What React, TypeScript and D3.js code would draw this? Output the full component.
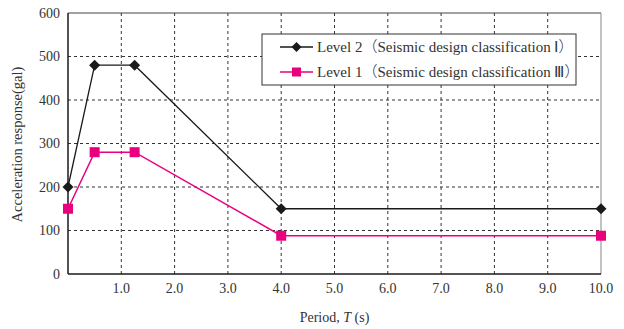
import * as d3 from "d3"

const periods = [0, 0.5, 1.25, 4, 10]
const level2 = [200, 480, 480, 150, 150]
const level1 = [150, 280, 280, 88, 88]
const xTicks = [1, 2, 3, 4, 5, 6, 7, 8, 9, 10]
const yTicks = [0, 100, 200, 300, 400, 500, 600]
const legendNames = ["Level 2", "Level 1"]
const legendClasses = ["Ⅰ", "Ⅲ"]

const width = 624
const height = 329
const margin = { top: 13, right: 23, bottom: 55, left: 68 }
const font = "'Liberation Serif', 'Times New Roman', serif"
const cjk = "'Noto Sans CJK JP', 'Noto Sans CJK SC', sans-serif"
const pink = "#e8007f"
const dark = "#1a1a1a"

export default function App() {
  const x = d3.scaleLinear().domain([0, 10]).range([margin.left, width - margin.right])
  const y = d3.scaleLinear().domain([0, 600]).range([height - margin.bottom, margin.top])

  const line = d3
    .line<number>()
    .x((_, i) => x(periods[i]))
    .y((d) => y(d))

  const diamond = (cx: number, cy: number, r: number) =>
    `M${cx},${cy - r}L${cx + r},${cy}L${cx},${cy + r}L${cx - r},${cy}Z`

  const [x0, x1] = x.range()
  const [y0, y1] = y.range()

  // legend label: latin parts in serif, full-width brackets in CJK font
  const legendText = (i: number, ty: number) => (
    <text x={317} y={ty} dy="0.35em" fontSize={15} fill="#333" fontFamily={font}>
      <tspan>{legendNames[i]}</tspan>
      <tspan fontFamily={cjk} fontWeight={300}>（</tspan>
      <tspan>Seismic design classification </tspan>
      <tspan>{legendClasses[i]}</tspan>
      <tspan fontFamily={cjk} fontWeight={300}>）</tspan>
    </text>
  )

  return (
    <svg
      width={width}
      height={height}
      style={{ position: "absolute", left: 0, top: 0, background: "#fff" }}
      fontFamily={font}
    >
      <rect width={width} height={height} fill="#fff" />
      {/* grid */}
      {yTicks.slice(1, -1).map((t) => (
        <line key={"gy" + t} x1={x0} x2={x1} y1={y(t)} y2={y(t)} stroke="#333" strokeWidth={1} strokeDasharray="3,3" />
      ))}
      {xTicks.slice(0, -1).map((t) => (
        <line key={"gx" + t} x1={x(t)} x2={x(t)} y1={y0} y2={y1} stroke="#333" strokeWidth={1} strokeDasharray="3,3" />
      ))}
      {/* frame */}
      <line x1={x0} x2={x1} y1={y1} y2={y1} stroke="#444" strokeWidth={1.2} />
      <line x1={x1} x2={x1} y1={y0} y2={y1} stroke="#999" strokeWidth={1.2} />
      <line x1={x0} x2={x0} y1={y0} y2={y1} stroke={dark} strokeWidth={1.5} />
      <line x1={x0} x2={x1} y1={y0} y2={y0} stroke={dark} strokeWidth={1.5} />

      {/* ticks */}
      {yTicks.map((t) => (
        <text key={"ty" + t} x={x0 - 8} y={y(t)} dy="0.35em" textAnchor="end" fontSize={14} fill="#333">
          {t}
        </text>
      ))}
      {xTicks.map((t) => (
        <text key={"tx" + t} x={x(t)} y={y0 + 19} textAnchor="middle" fontSize={14} fill="#333">
          {t.toFixed(1)}
        </text>
      ))}

      {/* axis titles */}
      <text
        transform={`translate(22,${(y0 + y1) / 2 + 1}) rotate(-90)`}
        textAnchor="middle"
        fontSize={14.5}
        fill="#333"
      >
        Acceleration response(gal)
      </text>
      <text x={(x0 + x1) / 2} y={height - 7} textAnchor="middle" fontSize={14} fill="#333">
        Period, <tspan fontStyle="italic">T</tspan> (s)
      </text>

      {/* series */}
      <path d={line(level2) ?? ""} fill="none" stroke={dark} strokeWidth={1.3} />
      <path d={line(level1) ?? ""} fill="none" stroke={pink} strokeWidth={1.5} />
      {level2.map((v, i) => (
        <path key={"d" + i} d={diamond(x(periods[i]), y(v), 5.5)} fill={dark} />
      ))}
      {level1.map((v, i) => (
        <rect key={"s" + i} x={x(periods[i]) - 5} y={y(v) - 5} width={10} height={10} fill={pink} />
      ))}

      {/* legend */}
      <g>
        <rect x={262} y={34} width={314} height={51} fill="#fff" stroke="#333" strokeWidth={1} />
        <line x1={280} x2={313} y1={47} y2={47} stroke={dark} strokeWidth={1.3} />
        <path d={diamond(296.5, 47, 5)} fill={dark} />
        {legendText(0, 47)}
        <line x1={280} x2={313} y1={72} y2={72} stroke={pink} strokeWidth={1.5} />
        <rect x={292} y={67.5} width={9} height={9} fill={pink} />
        {legendText(1, 72)}
      </g>
    </svg>
  )
}
